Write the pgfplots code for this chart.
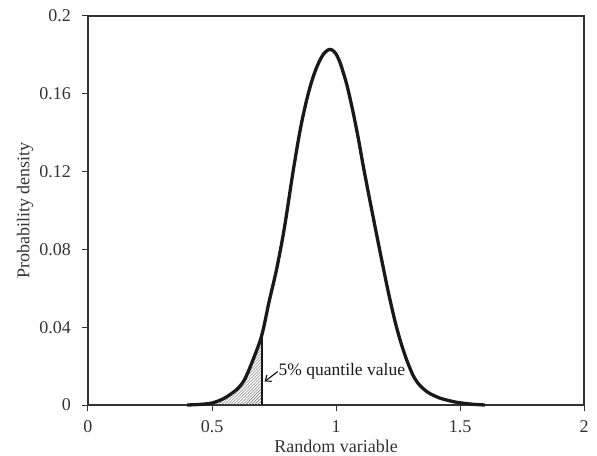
\documentclass[border=0pt]{standalone}
\usepackage{fontspec}
\setmainfont{Liberation Serif}
\usepackage{pgfplots}
\pgfplotsset{compat=1.18}
\usetikzlibrary{patterns,arrows.meta}
\begin{document}
\fontsize{18bp}{21bp}\selectfont
\begin{tikzpicture}
\path[use as bounding box] (-88bp,-51bp) rectangle (509bp,405bp);
\begin{axis}[
  at={(0,0)}, anchor=south west,
  scale only axis, width=496bp, height=389bp,
  xmin=0, xmax=2, ymin=0, ymax=0.2,
  xtick={0,0.5,1,1.5,2}, xticklabels={0,0.5,1,1.5,2},
  ytick={0,0.04,0.08,0.12,0.16,0.2}, yticklabels={0,0.04,0.08,0.12,0.16,0.2},
  /pgf/number format/assume math mode=true,
  tick align=outside, tick pos=left, major tick length=6bp,
  axis line style={line width=1.3bp, color=black!80},
  every tick/.style={line width=1bp, color=black!80},
  tick label style={font=\fontsize{18bp}{21bp}\selectfont, color=black!80},
  xticklabel style={yshift=-3bp},
  yticklabel style={xshift=-5bp},
  label style={font=\fontsize{18bp}{21bp}\selectfont, color=black!80},
  xlabel={Random variable}, ylabel={Probability density},
  xlabel style={at={([yshift=-47bp]axis description cs:0.5,0)}, anchor=base},
  ylabel style={at={([xshift=-63bp]axis description cs:0,0.5)}, anchor=center},
  clip=false,
]
\addplot[draw=none, pattern=north east lines, pattern color=black!60] coordinates {
(0.50,0) (0.50,0.0010) (0.55,0.0035) (0.60,0.0080) (0.63,0.0128) (0.66,0.0215) (0.70,0.0355) (0.70,0)
} -- cycle;
\addplot[line width=3.3bp, black!90, smooth, tension=0.5] coordinates {
(0.40,0) (0.45,0.0003) (0.50,0.0010) (0.55,0.0035) (0.60,0.0080) (0.63,0.0128)
(0.66,0.0215) (0.70,0.0355) (0.73,0.053) (0.76,0.0695) (0.785,0.086) (0.80,0.0975)
(0.825,0.1185) (0.85,0.1375) (0.866,0.148) (0.883,0.1575) (0.90,0.1655) (0.917,0.172)
(0.934,0.177) (0.95,0.1805) (0.967,0.1825) (0.975,0.1828) (0.985,0.1825) (1.0,0.1805)
(1.015,0.1765) (1.028,0.1715) (1.045,0.164) (1.069,0.1505) (1.09,0.137) (1.109,0.1235)
(1.13,0.1095) (1.15,0.0965) (1.17,0.0836) (1.19,0.071) (1.207,0.0604) (1.224,0.0506)
(1.24,0.042) (1.258,0.0336) (1.275,0.0268) (1.29,0.0215) (1.312,0.0149) (1.335,0.0105)
(1.36,0.0075) (1.38,0.0058) (1.42,0.0035) (1.474,0.0017) (1.52,0.0008) (1.56,0.0003) (1.60,0)
};
\addplot[line width=2bp, black!90] coordinates {(0.70,0) (0.70,0.0355)};
\draw[line width=1.2bp, black!90, -{Straight Barb[length=5bp,width=8bp]}] (axis cs:0.765,0.0172) -- (axis cs:0.712,0.012);
\node[anchor=west, inner sep=0, font=\fontsize{17.5bp}{21bp}\selectfont, black!90] at (axis cs:0.768,0.0175) {5\% quantile value};
\end{axis}
\end{tikzpicture}
\end{document}
